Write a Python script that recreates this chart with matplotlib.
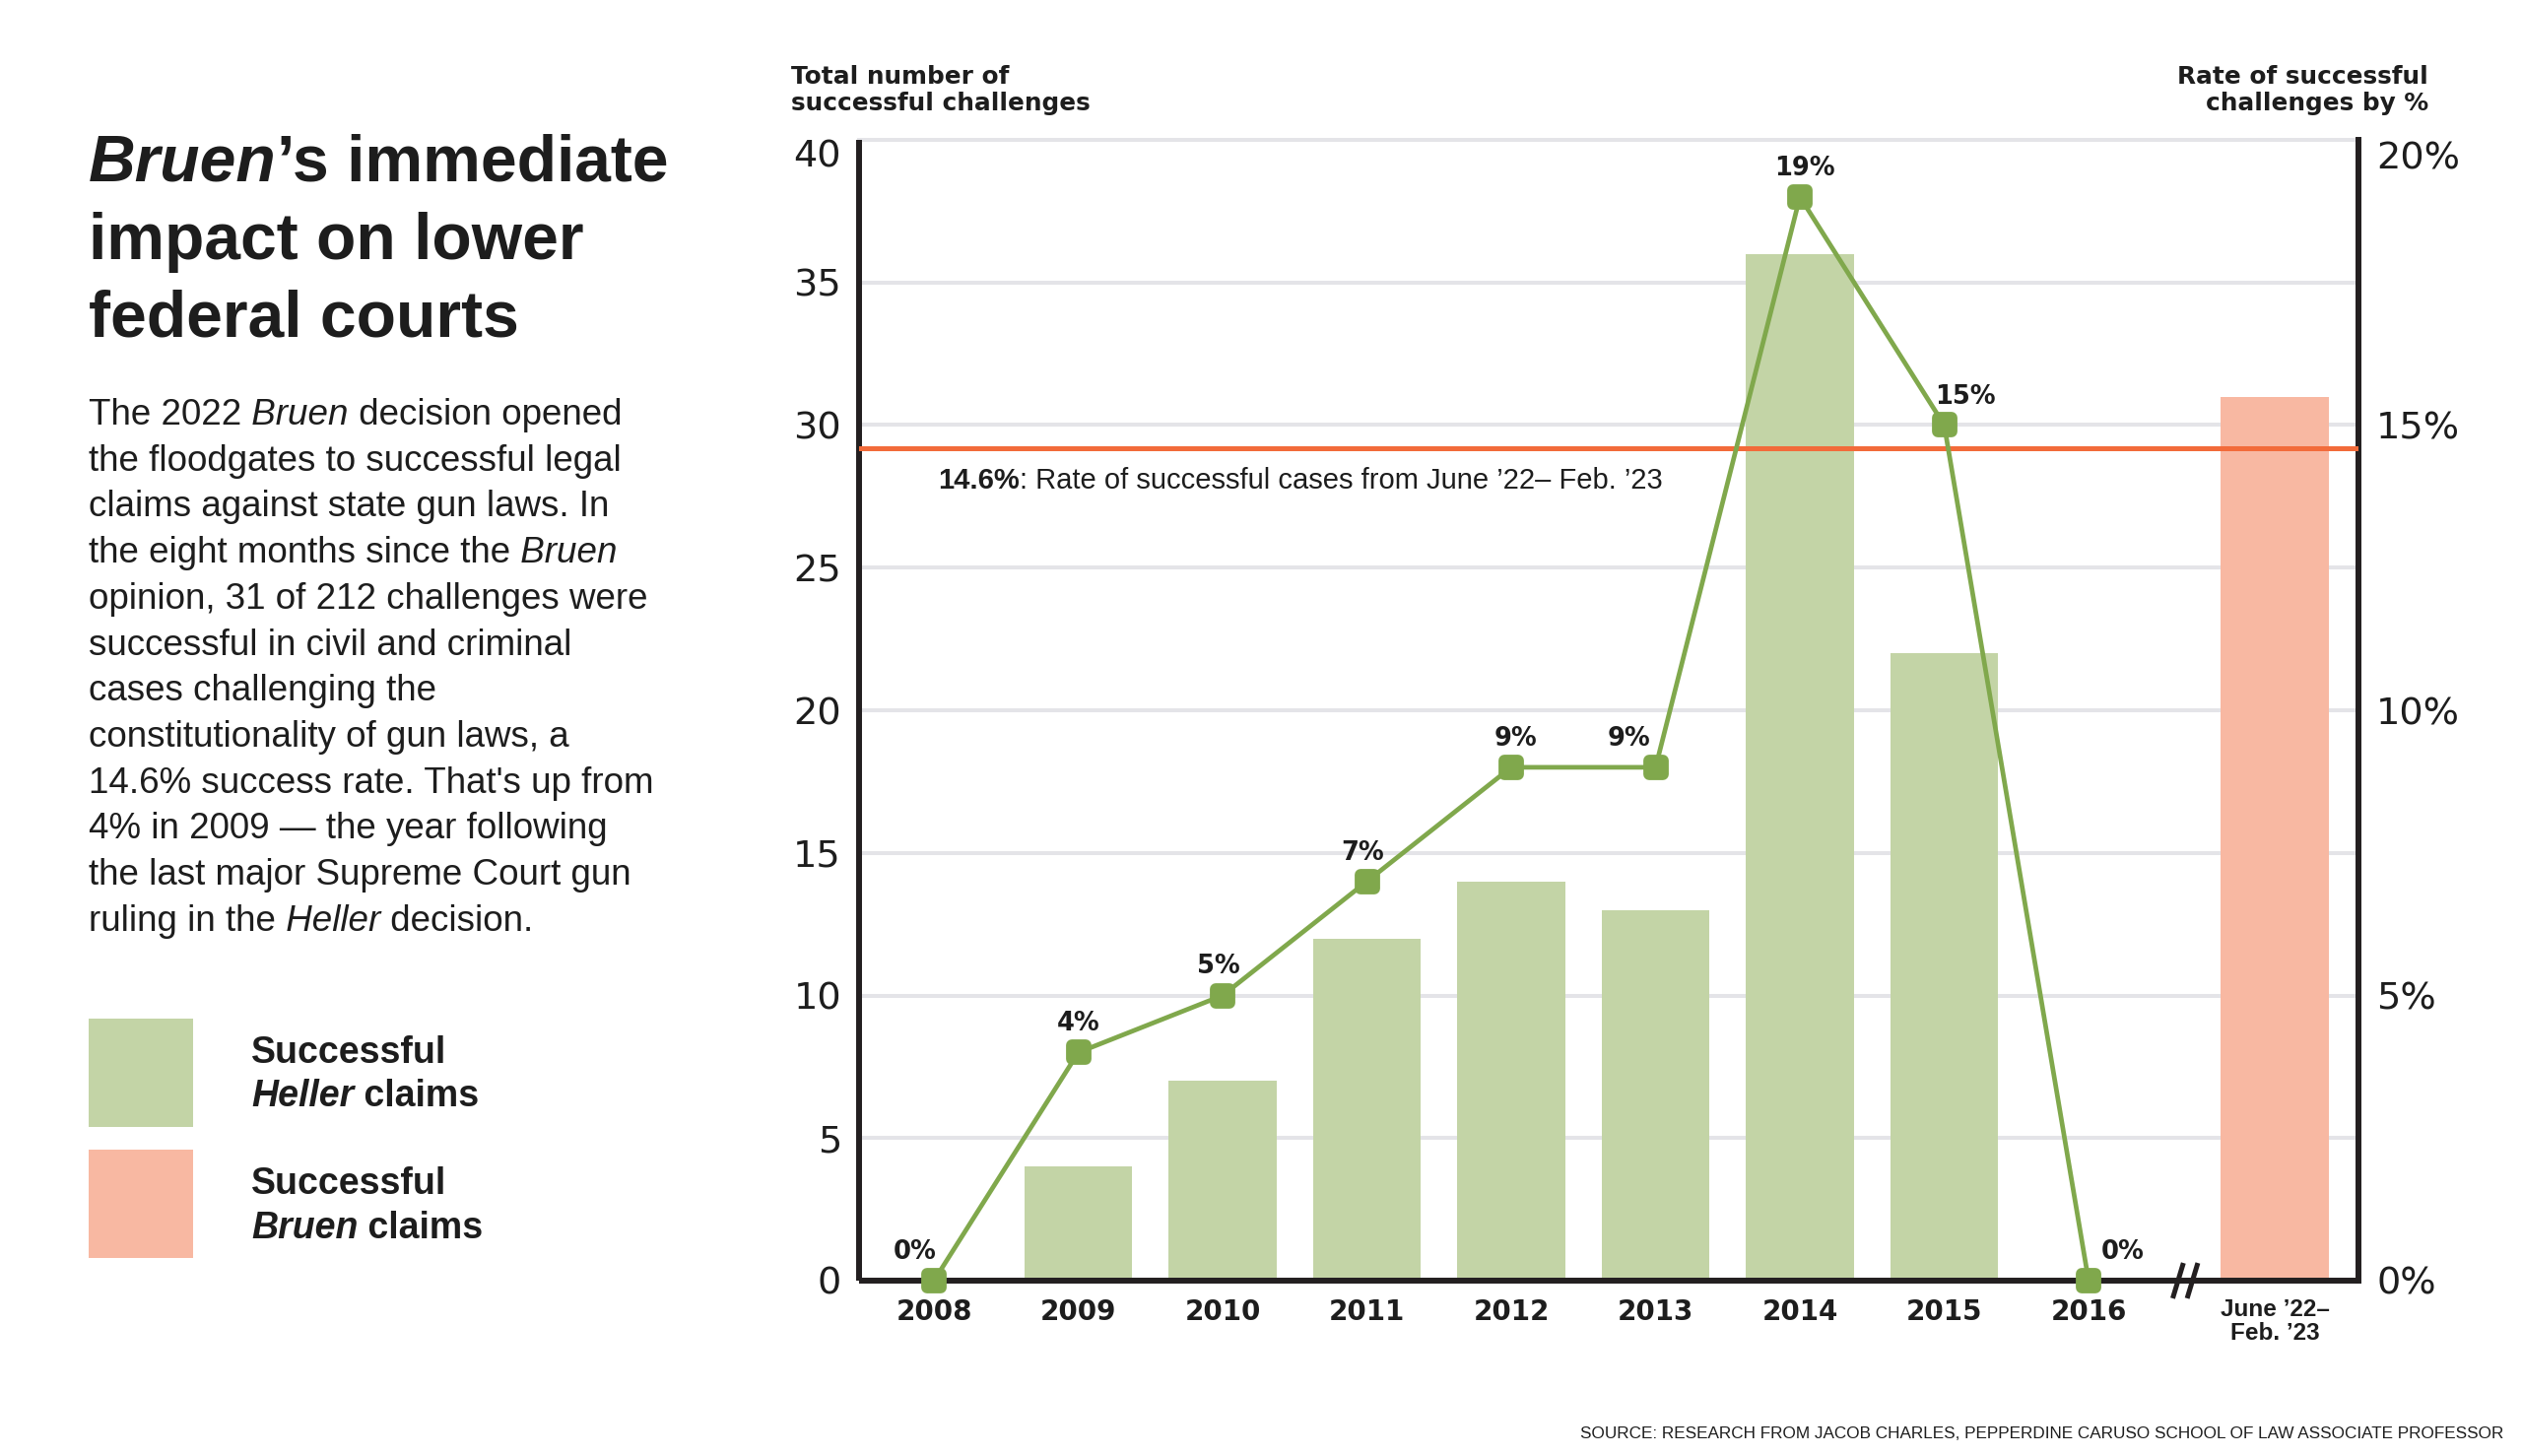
import matplotlib
matplotlib.use("Agg")
import matplotlib.pyplot as plt
import matplotlib.transforms as mtransforms
from matplotlib import font_manager
from matplotlib.markers import MarkerStyle
from matplotlib.patches import Rectangle
import numpy as np

# data
years = ["2008", "2009", "2010", "2011", "2012", "2013", "2014", "2015", "2016"]
heller_counts = [0, 4, 7, 12, 14, 13, 36, 22, 0]
heller_rates = [0, 4, 5, 7, 9, 9, 19, 15, 0]
bruen_label = "June \u201922\u2013\nFeb. \u201923"
bruen_count = 31
bruen_rate = 14.6

count_ticks = [0, 5, 10, 15, 20, 25, 30, 35, 40]
rate_ticks = [0, 5, 10, 15, 20]

installed = {f.name for f in font_manager.fontManager.ttflist}
SANS = "Liberation Sans" if "Liberation Sans" in installed else "DejaVu Sans"
NARROW = "Liberation Sans Narrow" if "Liberation Sans Narrow" in installed else SANS
WIDE = "DejaVu Sans"

INK = "#1d1d1d"
SPINE = "#231f20"
GREEN_BAR = "#c3d4a6"
GREEN_LINE = "#80a84c"
ORANGE_BAR = "#f8b8a2"
ORANGE_LINE = "#f26b3a"
GRID = "#e4e4e8"

W, H = 2560, 1478
fig = plt.figure(figsize=(W / 100, H / 100), dpi=100)
renderer = fig.canvas.get_renderer()


def fx(px):
    return px / W


def fy(py):
    return 1 - py / H


def put_runs(x, y, parts, size, family, color=INK):
    # draw mixed-style text on one baseline, pixel coords from top-left
    for s, style, weight in parts:
        t = fig.text(fx(x), fy(y), s, fontsize=size, fontstyle=style,
                     fontweight=weight, family=family, color=color,
                     ha="left", va="baseline")
        x += t.get_window_extent(renderer).width
    return x


# ---- main chart ----
ax = fig.add_axes([fx(872), fy(1300), (2394 - 872) / W, (1300 - 142) / H])
x_years = np.arange(len(years))
x_bruen = 9.29

ax.bar(x_years, heller_counts, width=0.75, color=GREEN_BAR, zorder=2)
ax.bar([x_bruen], [bruen_count], width=0.75, color=ORANGE_BAR, zorder=2)

ax.set_xlim(-0.519, 9.87)
ax.set_ylim(0, 40)
ax.set_yticks(count_ticks, [str(v) for v in count_ticks])
ax.yaxis.grid(True, color=GRID, linewidth=2.9, clip_on=False)
ax.set_axisbelow(True)
ax.get_ygridlines()[0].set_visible(False)

ax.set_xticks(list(x_years) + [x_bruen], years + [bruen_label])
for lbl in ax.get_xticklabels():
    lbl.set_family(WIDE)
    lbl.set_fontweight("bold")
    lbl.set_fontsize(20)
    lbl.set_color(INK)
last = ax.get_xticklabels()[-1]
last.set_family(SANS)
last.set_fontsize(17.5)
last.set_linespacing(1.05)

ax.tick_params(axis="x", length=0, pad=13)
ax.tick_params(axis="y", length=0, pad=13, labelsize=27.5, labelcolor=INK)
for lbl in ax.get_yticklabels():
    lbl.set_family(WIDE)

for side in ["top", "right"]:
    ax.spines[side].set_visible(False)
for side in ["left", "bottom"]:
    ax.spines[side].set_linewidth(4.3)
    ax.spines[side].set_color(SPINE)
    ax.spines[side].set_capstyle("butt")

# ---- rate axis ----
ax2 = ax.twinx()
ax2.set_ylim(0, 20)
ax2.set_yticks(rate_ticks, [f"{v}%" for v in rate_ticks])
ax2.tick_params(axis="y", length=0, pad=13, labelsize=27.5, labelcolor=INK)
for lbl in ax2.get_yticklabels():
    lbl.set_family(WIDE)
for side in ["top", "left", "bottom"]:
    ax2.spines[side].set_visible(False)
ax2.spines["right"].set_linewidth(4.3)
ax2.spines["right"].set_color(SPINE)

ax2.axhline(bruen_rate, color=ORANGE_LINE, linewidth=3.6, zorder=3)

marker = MarkerStyle("s", joinstyle="round")
ax2.plot(x_years, heller_rates, color=GREEN_LINE, linewidth=3.4,
         marker=marker, markersize=10, markeredgewidth=8.5,
         markerfacecolor=GREEN_LINE, markeredgecolor=GREEN_LINE,
         zorder=5, clip_on=False)

# value labels (offsets in pixels)
label_offsets = [(-19, 22), (0, 22), (-4, 22), (-4, 22), (4, 22),
                 (-27, 22), (5, 22), (21, 22), (35, 22)]
for xv, rv, (dx, dy) in zip(x_years, heller_rates, label_offsets):
    ax2.annotate(f"{rv}%", (xv, rv), xytext=(dx * 0.72, dy * 0.72),
                 textcoords="offset points", ha="center", va="baseline",
                 fontsize=18.5, fontweight="bold", family=WIDE, color=INK,
                 zorder=6, annotation_clip=False)

# axis break marks
for x0 in [8.62, 8.72]:
    ax2.plot([x0 - 0.037, x0 + 0.037], [-0.31, 0.31], color=SPINE,
             linewidth=3.6, solid_capstyle="butt", clip_on=False, zorder=7)

# shift the top tick labels down a bit
top_left = ax.yaxis.get_major_ticks()[-1].label1
top_left.set_transform(top_left.get_transform() +
                       mtransforms.ScaledTranslation(0, -0.13, fig.dpi_scale_trans))
top_right = ax2.yaxis.get_major_ticks()[-1].label2
top_right.set_transform(top_right.get_transform() +
                        mtransforms.ScaledTranslation(0, -0.16, fig.dpi_scale_trans))

# axis titles
fig.text(fx(803), fy(85), "Total number of", family=WIDE, fontweight="bold",
         fontsize=17.8, color=INK, ha="left", va="baseline")
fig.text(fx(803), fy(112), "successful challenges", family=WIDE, fontweight="bold",
         fontsize=17.8, color=INK, ha="left", va="baseline")
fig.text(fx(2465), fy(85), "Rate of successful", family=WIDE, fontweight="bold",
         fontsize=17.8, color=INK, ha="right", va="baseline")
fig.text(fx(2465), fy(112), "challenges by %", family=WIDE, fontweight="bold",
         fontsize=17.8, color=INK, ha="right", va="baseline")

# reference line note
put_runs(952, 496, [("14.6%", "normal", "bold"),
                    (": Rate of successful cases from June \u201922\u2013 Feb. \u201923",
                     "normal", "normal")], 21, SANS)

# ---- left panel ----
title_lines = [
    [("Bruen", "italic", "bold"), ("\u2019s immediate", "normal", "bold")],
    [("impact on lower", "normal", "bold")],
    [("federal courts", "normal", "bold")],
]
for i, parts in enumerate(title_lines):
    put_runs(90, 184 + i * 79, parts, 47.5, SANS)

body_lines = [
    [("The 2022", "normal", "normal"), (" Bruen", "italic", "normal"),
     (" decision opened", "normal", "normal")],
    [("the floodgates to successful legal", "normal", "normal")],
    [("claims against state gun laws. In", "normal", "normal")],
    [("the eight months since the", "normal", "normal"), (" Bruen", "italic", "normal")],
    [("opinion, 31 of 212 challenges were", "normal", "normal")],
    [("successful in civil and criminal", "normal", "normal")],
    [("cases challenging the", "normal", "normal")],
    [("constitutionality of gun laws, a", "normal", "normal")],
    [("14.6% success rate. That's up from", "normal", "normal")],
    [("4% in 2009 \u2014 the year following", "normal", "normal")],
    [("the last major Supreme Court gun", "normal", "normal")],
    [("ruling in the", "normal", "normal"), (" Heller", "italic", "normal"),
     (" decision.", "normal", "normal")],
]
for i, parts in enumerate(body_lines):
    put_runs(90, 431 + i * 46.7, parts, 26.5, SANS)

# legend
fig.add_artist(Rectangle((fx(90), fy(1144)), 106 / W, 110 / H,
                         transform=fig.transFigure, color=GREEN_BAR, lw=0))
fig.add_artist(Rectangle((fx(90), fy(1277)), 106 / W, 110 / H,
                         transform=fig.transFigure, color=ORANGE_BAR, lw=0))
put_runs(255, 1079, [("Successful", "normal", "bold")], 27, SANS)
put_runs(255, 1123, [("Heller", "italic", "bold"), (" claims", "normal", "bold")], 27, SANS)
put_runs(255, 1212, [("Successful", "normal", "bold")], 27, SANS)
put_runs(255, 1257, [("Bruen", "italic", "bold"), (" claims", "normal", "bold")], 27, SANS)

# source line, fitted to its width in the original
src = fig.text(fx(2541), fy(1460),
               "SOURCE: RESEARCH FROM JACOB CHARLES, PEPPERDINE CARUSO SCHOOL OF LAW ASSOCIATE PROFESSOR",
               family=NARROW, fontsize=15, color=INK, ha="right", va="baseline")
w = src.get_window_extent(renderer).width
src.set_fontsize(15 * 941 / w)

fig.savefig("out.png", dpi=100, facecolor="white")
